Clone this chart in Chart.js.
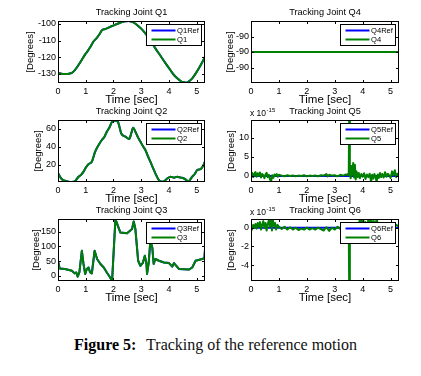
<!DOCTYPE html>
<html><head><meta charset="utf-8">
<script src="https://cdn.jsdelivr.net/npm/chart.js@4.4.1/dist/chart.umd.min.js"></script>
<style>
html,body{margin:0;padding:0;background:#fff;}
body{width:421px;height:376px;position:relative;overflow:hidden;}
canvas{position:absolute;}
#cap{position:absolute;left:5px;top:335px;width:421px;text-align:center;font-family:'Liberation Serif','Times New Roman',serif;font-size:16px;line-height:20px;color:#111;white-space:nowrap;}
#cap b{color:#000;margin-right:6px;}
</style></head><body>
<canvas id="c1" width="210" height="107" style="left:0;top:0"></canvas>
<canvas id="c4" width="211" height="107" style="left:210px;top:0"></canvas>
<canvas id="c2" width="210" height="107" style="left:0;top:99px"></canvas>
<canvas id="c5" width="211" height="107" style="left:210px;top:99px"></canvas>
<canvas id="c3" width="210" height="107" style="left:0;top:198px"></canvas>
<canvas id="c6" width="211" height="107" style="left:210px;top:198px"></canvas>
<div id="cap"><b>Figure 5:</b> Tracking of the reference motion</div>
<script>
// ---------- data ----------
const timeTicks = [0, 1, 2, 3, 4, 5];
const timeMax = 5.3;

const q1Time = [0,0.12,0.25,0.4,0.5,0.6,0.74,0.86,0.98,1.08,1.16,1.28,1.4,1.5,1.58,1.7,1.82,1.95,2.13,2.3,2.43,2.55,2.65,2.75,2.85,3.0,3.15,3.3,3.51,3.7,3.88,4.05,4.18,4.3,4.42,4.53,4.63,4.73,4.84,4.96,5.08,5.2,5.3];
const q1Deg = [-129.2,-129.8,-130,-129.8,-129.3,-127.8,-124.6,-121.5,-118.2,-116,-114,-110.5,-108.3,-106,-103.8,-103,-102.2,-101.2,-100,-98.8,-98.3,-98.2,-98.6,-99.4,-100.6,-102.8,-105.6,-109,-114.6,-119.2,-123.6,-127.6,-130.6,-132.6,-134.2,-135,-135.2,-134.3,-132.6,-129.8,-126.6,-123,-119.6];
const q1Ticks = [-130, -120, -110, -100];

const q2Time = [0,0.13,0.25,0.37,0.5,0.62,0.68,0.74,0.83,0.92,1.0,1.1,1.22,1.34,1.46,1.58,1.67,1.76,1.86,1.95,2.07,2.16,2.22,2.28,2.43,2.57,2.64,2.71,2.79,2.88,2.97,3.06,3.15,3.24,3.33,3.42,3.51,3.6,3.66,3.75,3.85,3.94,4.06,4.18,4.3,4.42,4.54,4.62,4.7,4.77,4.84,4.93,5.02,5.14,5.23,5.3];
const q2Deg = [11,4.4,2.5,1.5,1.2,2,4.5,7,9,12.6,17,21,23.7,34.8,42,47.8,51,57,62,68,69.2,68,62,55,51.5,49,55,61.5,57,51,46,41,36.7,30,23.7,17,10.7,5,2.6,1.5,2.5,5,7,5.9,7,6,5,3.5,1.5,4,7,10,14.4,15.5,19,23.7];
const q2Ticks = [20, 40, 60];

const q3Time = [0,0.06,0.25,0.5,0.6,0.66,0.71,0.77,0.86,0.92,0.98,1.04,1.1,1.16,1.22,1.32,1.41,1.53,1.65,1.76,1.88,1.95,2.07,2.16,2.25,2.49,2.67,2.73,2.79,2.89,2.97,3.06,3.13,3.19,3.21,3.27,3.33,3.4,3.45,3.51,3.64,3.82,4.0,4.12,4.18,4.36,4.72,4.84,4.96,5.2,5.28,5.3];
const q3Deg = [51,25,23,17,8,11,-3,11,85,40,6,23,28,11,8,85,57,40,28,11,-6,-18,193,170,147,145,159,185,159,51,34,44,68,40,6,44,119,96,40,57,51,45,43,31,43,23,21,28,51,57,60,90];
const q3Ticks = [0, 50, 100, 150];

const q4Time = [0, 5.3];
const q4Deg = [-90, -90];
const q4Eps = 1e-10;
const q4Ticks = [-90 - q4Eps, -90, -90 + q4Eps];

const q5RefTime = [0, 5.3];
const q5RefDeg = [0, 0];
const q5Time = [0,0.04,0.08,0.12,0.16,0.2,0.24,0.28,0.32,0.36,0.4,0.44,0.48,0.52,0.56,0.6,0.64,0.68,0.72,0.76,0.8,0.84,0.88,0.92,0.96,1.0,1.1,1.2,1.3,1.4,1.5,1.6,1.7,1.8,1.9,2.0,2.1,2.2,2.3,2.4,2.5,2.6,2.7,2.75,2.8,2.9,3.0,3.1,3.2,3.3,3.4,3.45,3.48,3.5,3.52,3.54,3.57,3.6,3.63,3.66,3.69,3.72,3.75,3.78,3.82,3.86,3.9,3.95,4.0,4.05,4.1,4.15,4.2,4.25,4.3,4.34,4.38,4.42,4.46,4.5,4.54,4.58,4.62,4.66,4.7,4.75,4.8,4.85,4.9,4.95,5.0,5.05,5.1,5.15,5.2,5.25,5.3];
const q5Val = [0.2,0.8,-0.3,0.6,1.0,-0.2,0.7,0.1,0.9,-0.4,0.5,0.2,-0.6,0.4,0.8,-0.3,0.3,-0.9,-1.4,0.2,-0.5,0.4,0.1,0.5,-0.2,0.3,0.1,-0.1,0.2,0,0.15,-0.1,0.1,0,0.2,-0.1,0.1,0,0.15,-0.1,0.2,0.1,0.5,-0.1,0.3,0.1,0.2,-0.1,0.3,0.1,0.4,0.2,0.6,0.3,20,0.2,-0.6,2.6,0.3,3.4,-0.4,2.9,-0.9,1.2,-0.3,0.8,-0.6,0.5,-0.2,0.7,-0.8,0.4,-0.3,0.6,-1.5,0.3,-0.7,0.5,-0.2,-1.6,0.4,-0.5,0.8,-0.3,0.5,-0.4,1.0,-0.2,0.6,0.1,-0.5,1.2,0.2,1.5,-0.3,0.6,0.1];
const q5Ticks = [0, 5, 10];

const q6RefTime = [0, 5.3];
const q6RefDeg = [0, 0];
const q6Time = [0,0.04,0.08,0.12,0.16,0.2,0.24,0.28,0.32,0.36,0.4,0.44,0.48,0.52,0.56,0.6,0.64,0.68,0.72,0.75,0.78,0.82,0.86,0.9,0.95,1.0,1.1,1.2,1.3,1.4,1.5,1.6,1.7,1.8,1.9,2.0,2.1,2.2,2.3,2.4,2.5,2.6,2.7,2.8,2.9,3.0,3.1,3.2,3.3,3.4,3.46,3.5,3.52,3.54,3.6,3.7,3.8,3.85,3.9,3.95,4.0,4.05,4.1,4.15,4.2,4.25,4.3,4.35,4.4,4.45,4.5,4.55,4.6,4.7,4.8,4.9,5.0,5.1,5.2,5.3];
const q6Val = [0.1,-0.2,0.3,0.0,0.4,-0.1,0.5,0.1,0.6,-0.2,0.3,0.7,0.0,0.5,-0.3,0.4,0.8,0.1,1.3,-0.3,0.9,0.2,0.5,-0.2,0.3,0.1,-0.15,0.1,-0.2,0.05,-0.2,0.0,-0.25,-0.1,-0.2,0.0,-0.2,-0.05,-0.2,0.0,-0.15,-0.3,0.05,-0.35,0.0,-0.2,0.1,-0.15,0.2,-0.1,0.3,0.0,-8,0.0,0.3,0.1,0.5,0.2,0.9,0.3,1.2,0.2,0.6,0.1,0.8,0.3,1.1,0.2,0.7,0.1,1.0,0.2,0.4,0.1,0.3,0.0,0.2,0.05,0.3,0.1];
const q6Ticks = [-4, -2, 0];

// ---------- helpers ----------
const FONT = "'Liberation Sans', Arial, Helvetica, sans-serif";
const pairs = (t, v) => t.map((x, i) => ({x: x, y: v[i]}));

const framePlugin = {
  id: 'frame',
  afterDatasetsDraw(chart) {
    const {ctx, chartArea: a, scales: {x, y}} = chart;
    ctx.save();
    ctx.strokeStyle = '#000';
    ctx.lineWidth = 1;
    const l = Math.round(a.left) + 0.5, r = Math.round(a.right) - 0.5;
    const t = Math.round(a.top) + 0.5, b = Math.round(a.bottom) - 0.5;
    ctx.strokeRect(l, t, r - l, b - t);
    ctx.beginPath();
    x.ticks.forEach(tk => {
      const px = Math.round(x.getPixelForValue(tk.value)) + 0.5;
      ctx.moveTo(px, b); ctx.lineTo(px, b - 2.5);
      ctx.moveTo(px, t); ctx.lineTo(px, t + 2.5);
    });
    y.ticks.forEach(tk => {
      const py = Math.round(y.getPixelForValue(tk.value)) + 0.5;
      ctx.moveTo(l, py); ctx.lineTo(l + 2.5, py);
      ctx.moveTo(r, py); ctx.lineTo(r - 2.5, py);
    });
    ctx.stroke();
    ctx.restore();
  }
};

const boxLegendPlugin = {
  id: 'boxLegend',
  afterDraw(chart) {
    const {ctx, chartArea: a} = chart;
    const bw = 55, bh = 21;
    const bx = Math.round(a.right) - 59 + 0.5, by = Math.round(a.top) + 3 + 0.5;
    ctx.save();
    ctx.fillStyle = '#fff';
    ctx.fillRect(bx, by, bw, bh);
    ctx.strokeStyle = '#000';
    ctx.lineWidth = 1;
    ctx.strokeRect(bx, by, bw, bh);
    ctx.font = '7.6px ' + FONT;
    ctx.textBaseline = 'middle';
    ctx.textAlign = 'left';
    chart.data.datasets.forEach((ds, i) => {
      const ly = by + 6 + i * 9;
      ctx.strokeStyle = ds.borderColor;
      ctx.lineWidth = 2;
      ctx.beginPath();
      ctx.moveTo(bx + 5, ly); ctx.lineTo(bx + 29, ly);
      ctx.stroke();
      ctx.fillStyle = '#000';
      ctx.fillText(ds.label, bx + 30.5, ly + 0.5);
    });
    ctx.restore();
  }
};

const expPlugin = {
  id: 'expLabel',
  afterDraw(chart, args, opts) {
    if (!opts || !opts.text) return;
    const {ctx, chartArea: a} = chart;
    ctx.save();
    ctx.fillStyle = '#000';
    ctx.textBaseline = 'alphabetic';
    ctx.textAlign = 'left';
    ctx.font = '8.5px ' + FONT;
    const base = 'x 10';
    const x0 = a.left - 1, y0 = a.top - 4;
    ctx.fillText(base, x0, y0);
    const w = ctx.measureText(base).width;
    ctx.font = '6px ' + FONT;
    ctx.fillText(opts.text, x0 + w + 0.5, y0 - 4.5);
    ctx.restore();
  }
};

function makeChart(id, s) {
  const canvas = document.getElementById(id);
  const mode = s.smooth ? 'monotone' : 'default';
  return new Chart(canvas, {
    type: 'line',
    data: {
      datasets: [
        {label: s.names[0], data: pairs(s.refT, s.refV), borderColor: '#0000ff', borderWidth: 2, order: 2,
         pointRadius: 0, tension: 0, cubicInterpolationMode: mode, clip: 0, borderJoinStyle: 'round', fill: false},
        {label: s.names[1], data: pairs(s.actT, s.actV), borderColor: '#008000', borderWidth: 2, order: 1,
         pointRadius: 0, tension: 0, cubicInterpolationMode: mode, clip: 0, borderJoinStyle: 'round', fill: false}
      ]
    },
    options: {
      responsive: false, animation: false, devicePixelRatio: 1,
      events: [],
      layout: {padding: {left: 0, right: s.padR, top: 0, bottom: 0}},
      plugins: {
        legend: {display: false},
        tooltip: {enabled: false},
        title: {display: true, text: s.title, color: '#000', fullSize: false, align: 'center',
                font: {family: FONT, size: 9.2, weight: 'normal', lineHeight: 1.2},
                padding: {top: 7, bottom: 2.96}},
        expLabel: {text: s.exp || ''}
      },
      scales: {
        x: {
          type: 'linear', min: 0, max: timeMax,
          grid: {display: false, drawTicks: false}, border: {display: false},
          ticks: {color: '#000', font: {family: FONT, size: 9}, padding: 3, maxRotation: 0, autoSkip: false},
          title: {display: true, text: 'Time [sec]', color: '#000',
                  font: {family: FONT, size: 11.5, lineHeight: 1.2}, padding: {top: 0, bottom: 0.4}},
          afterBuildTicks: ax => { ax.ticks = timeTicks.map(v => ({value: v})); },
          afterFit: ax => { ax.height = 24; }
        },
        y: {
          type: 'linear', min: s.yMin, max: s.yMax,
          grid: {display: false, drawTicks: false}, border: {display: false},
          ticks: {color: '#000', font: {family: FONT, size: 9}, padding: 2, autoSkip: false,
                  callback: s.fmt ? s.fmt : (v => String(v))},
          title: {display: true, text: '[Degrees]', color: '#000',
                  font: {family: FONT, size: 9.5, lineHeight: 1.2}, padding: {top: s.yLabelX - 5.7, bottom: 0}},
          afterBuildTicks: ax => { ax.ticks = s.yTicks.map(v => ({value: v})); },
          afterFit: ax => { ax.width = s.yW; }
        }
      }
    },
    plugins: [framePlugin, boxLegendPlugin, expPlugin]
  });
}

makeChart('c1', {title: 'Tracking Joint Q1', names: ['Q1Ref', 'Q1'], refT: q1Time, refV: q1Deg, actT: q1Time, actV: q1Deg,
  yMin: -135.4, yMax: -98.2, yTicks: q1Ticks, yW: 58, padR: 5, yLabelX: 30, smooth: true});
makeChart('c2', {title: 'Tracking Joint Q2', names: ['Q2Ref', 'Q2'], refT: q2Time, refV: q2Deg, actT: q2Time, actV: q2Deg,
  yMin: 1.1, yMax: 70, yTicks: q2Ticks, yW: 58, padR: 5, yLabelX: 38, smooth: true});
makeChart('c3', {title: 'Tracking Joint Q3', names: ['Q3Ref', 'Q3'], refT: q3Time, refV: q3Deg, actT: q3Time, actV: q3Deg,
  yMin: -18, yMax: 193.3, yTicks: q3Ticks, yW: 58, padR: 5, yLabelX: 36, smooth: false});
makeChart('c4', {title: 'Tracking Joint Q4', names: ['Q4Ref', 'Q4'], refT: q4Time, refV: q4Deg, actT: q4Time, actV: q4Deg,
  yMin: -90 - 2 * q4Eps, yMax: -90 + 2 * q4Eps, yTicks: q4Ticks, yW: 41, padR: 22, yLabelX: 20,
  fmt: v => String(Math.round(v)), smooth: false});
makeChart('c5', {title: 'Tracking Joint Q5', names: ['Q5Ref', 'Q5'], refT: q5RefTime, refV: q5RefDeg, actT: q5Time, actV: q5Val,
  yMin: -1.57, yMax: 14.6, yTicks: q5Ticks, yW: 41, padR: 22, yLabelX: 21.5, exp: '-15', smooth: false});
makeChart('c6', {title: 'Tracking Joint Q6', names: ['Q6Ref', 'Q6'], refT: q6RefTime, refV: q6RefDeg, actT: q6Time, actV: q6Val,
  yMin: -5.71, yMax: 0.93, yTicks: q6Ticks, yW: 41, padR: 22, yLabelX: 21, exp: '-15', smooth: false});
</script>
</body></html>
